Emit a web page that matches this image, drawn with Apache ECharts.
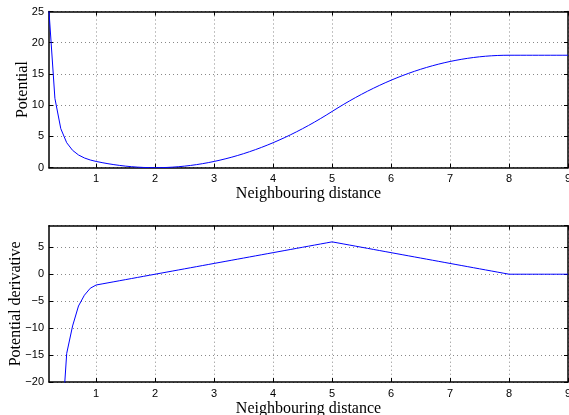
<!DOCTYPE html>
<html>
<head>
<meta charset="utf-8">
<script src="https://cdn.jsdelivr.net/npm/echarts@6/dist/echarts.min.js"></script>
<style>html,body{margin:0;padding:0;background:#fff;}#c{width:569px;height:415px;}</style>
</head>
<body>
<div id="c"></div>
<script>
var distance = [0.2,0.3,0.4,0.5,0.6,0.7,0.8,0.9,1.0,
1.1,1.2,1.3,1.4,1.5,1.6,1.7,1.8,1.9,2.0,
2.1,2.2,2.3,2.4,2.5,2.6,2.7,2.8,2.9,3.0,
3.1,3.2,3.3,3.4,3.5,3.6,3.7,3.8,3.9,4.0,
4.1,4.2,4.3,4.4,4.5,4.6,4.7,4.8,4.9,5.0,
5.1,5.2,5.3,5.4,5.5,5.6,5.7,5.8,5.9,6.0,
6.1,6.2,6.3,6.4,6.5,6.6,6.7,6.8,6.9,7.0,
7.1,7.2,7.3,7.4,7.5,7.6,7.7,7.8,7.9,8.0,
8.1,8.2,8.3,8.4,8.5,8.6,8.7,8.8,8.9,9.0];

var potential = [25,11.1,6.25,4,2.78,2.04,1.56,1.23,1,
0.81,0.64,0.49,0.36,0.25,0.16,0.09,0.04,0.01,0,
0.01,0.04,0.09,0.16,0.25,0.36,0.49,0.64,0.81,1,
1.21,1.44,1.69,1.96,2.25,2.56,2.89,3.24,3.61,4,
4.41,4.84,5.29,5.76,6.25,6.76,7.29,7.84,8.41,9,
9.59,10.16,10.71,11.24,11.75,12.24,12.71,13.16,13.59,14,
14.39,14.76,15.11,15.44,15.75,16.04,16.31,16.56,16.79,17,
17.19,17.36,17.51,17.64,17.75,17.84,17.91,17.96,17.99,18,
18,18,18,18,18,18,18,18,18,18];

var derivative = [-250,-74,-31.25,-14.7,-9.6,-5.9,-3.9,-2.6,-2,
-1.8,-1.6,-1.4,-1.2,-1,-0.8,-0.6,-0.4,-0.2,0,
0.2,0.4,0.6,0.8,1,1.2,1.4,1.6,1.8,2,
2.2,2.4,2.6,2.8,3,3.2,3.4,3.6,3.8,4,
4.2,4.4,4.6,4.8,5,5.2,5.4,5.6,5.8,6,
5.8,5.6,5.4,5.2,5,4.8,4.6,4.4,4.2,4,
3.8,3.6,3.4,3.2,3,2.8,2.6,2.4,2.2,2,
1.8,1.6,1.4,1.2,1,0.8,0.6,0.4,0.2,0,
0,0,0,0,0,0,0,0,0,0];

var xTicks = [1,2,3,4,5,6,7,8,9];
var xTitle = 'Neighbouring distance';
var yTitleTop = 'Potential';
var yTitleBottom = 'Potential derivative';

function pairs(xs, ys){ return xs.map(function(x,i){ return [x, ys[i]]; }); }

var sans = 'Liberation Sans';
var serif = 'Liberation Serif';
var axisLine = {show:true, onZero:false, lineStyle:{color:'#000', width:1.5}};
var tick = {show:true, inside:true, length:4, lineStyle:{color:'#000', width:1}};
var split = {show:true, lineStyle:{color:'#888', type:[1,3], width:1}};
function minus(v){ return String(v).replace('-', '\u2212'); }

function xMain(gi, name, gap){
  return {type:'value', gridIndex:gi, min:0.2, max:9, position:'bottom',
    name:name, nameLocation:'middle', nameGap:gap,
    nameTextStyle:{fontFamily:serif, fontSize:16, color:'#000'},
    axisLine:axisLine,
    axisTick:Object.assign({customValues:xTicks}, tick),
    axisLabel:{customValues:xTicks, fontFamily:sans, fontSize:11, color:'#000', margin:6},
    splitLine:split};
}
function xTop(gi){
  return {type:'value', gridIndex:gi, min:0.2, max:9, position:'top',
    axisLine:axisLine,
    axisTick:Object.assign({customValues:xTicks}, tick),
    axisLabel:{show:false}, splitLine:{show:false}};
}
function yMain(gi, min, max, name, gap){
  return {type:'value', gridIndex:gi, min:min, max:max, interval:5, position:'left',
    name:name, nameLocation:'middle', nameGap:gap, nameMoveOverlap:false,
    nameTextStyle:{fontFamily:serif, fontSize:16, color:'#000'},
    axisLine:axisLine, axisTick:tick,
    axisLabel:{fontFamily:sans, fontSize:11, color:'#000', margin:5, showMaxLabel: max % 5 === 0, formatter:minus},
    splitLine:split};
}
function yRight(gi, min, max){
  return {type:'value', gridIndex:gi, min:min, max:max, interval:5, position:'right',
    axisLine:axisLine, axisTick:tick, axisLabel:{show:false}, splitLine:{show:false}};
}

var chart = echarts.init(document.getElementById('c'), null, {renderer:'canvas'});
chart.setOption({
  animation:false,
  backgroundColor:'#fff',
  grid:[
    {left:49, right:1, top:11.5, height:156.2, containLabel:false, outerBoundsMode:'none'},
    {left:49, right:1, top:225.7, height:156.3, containLabel:false, outerBoundsMode:'none'}
  ],
  xAxis:[xMain(0, xTitle, 18), xTop(0), xMain(1, xTitle, 19), xTop(1)],
  yAxis:[yMain(0, 0, 25, yTitleTop, 18), yRight(0, 0, 25), yMain(1, -20, 9, yTitleBottom, 25), yRight(1, -20, 9)],
  series:[
    {type:'line', xAxisIndex:0, yAxisIndex:0, data:pairs(distance, potential), showSymbol:false, clip:true,
     lineStyle:{color:'#0000ff', width:1}, itemStyle:{color:'#0000ff'}},
    {type:'line', xAxisIndex:2, yAxisIndex:2, data:pairs(distance, derivative), showSymbol:false, clip:true,
     lineStyle:{color:'#0000ff', width:1}, itemStyle:{color:'#0000ff'}}
  ]
});
</script>
</body>
</html>
